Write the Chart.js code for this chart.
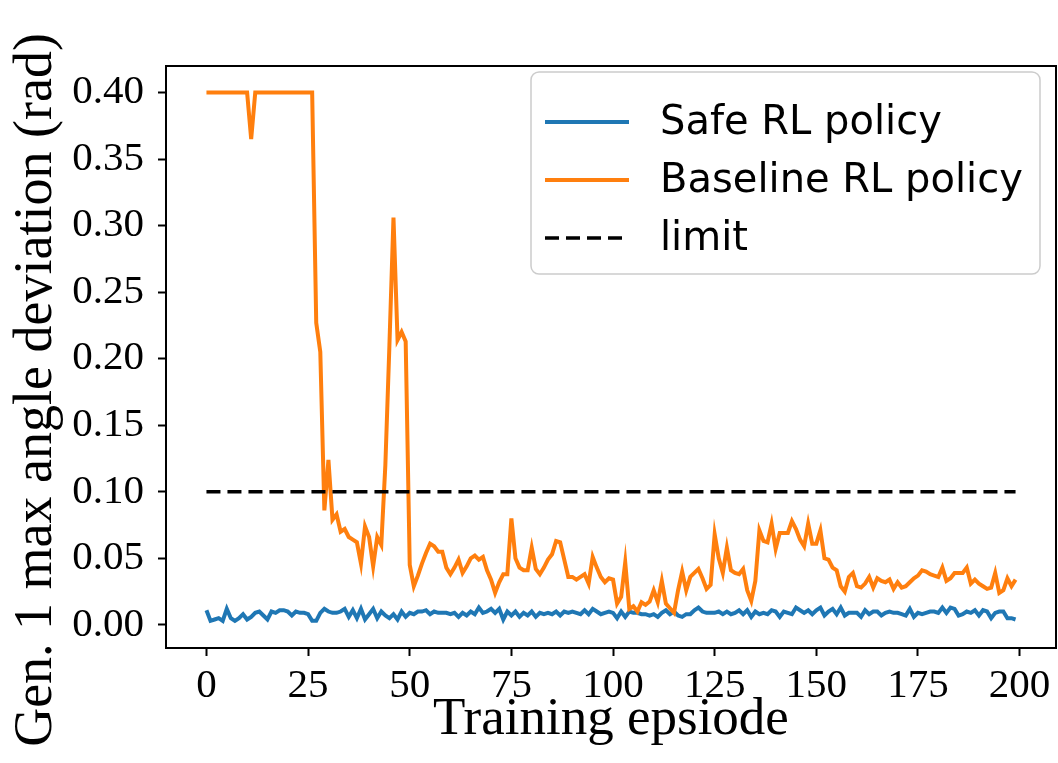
<!DOCTYPE html>
<html>
<head>
<meta charset="utf-8">
<script src="https://cdn.jsdelivr.net/npm/chart.js@4.4.1/dist/chart.umd.min.js"></script>
<style>
  body { margin: 0; background: #fff; }
  #wrap { width: 1058px; height: 763px; position: relative; }
</style>
</head>
<body>
<div id="wrap"><canvas id="chart"></canvas></div>
<script>
// values
const baseline_rl = [
    0.400, 0.400, 0.400, 0.400, 0.400, 0.400, 0.400, 0.400, 0.400, 0.400,
    0.400, 0.365, 0.400, 0.400, 0.400, 0.400, 0.400, 0.400, 0.400, 0.400,
    0.400, 0.400, 0.400, 0.400, 0.400, 0.400, 0.400, 0.227, 0.205, 0.086,
    0.124, 0.079, 0.083, 0.070, 0.072, 0.066, 0.064, 0.062, 0.046, 0.074,
    0.066, 0.044, 0.066, 0.060, 0.120, 0.210, 0.306, 0.214, 0.220, 0.213,
    0.045, 0.029, 0.037, 0.046, 0.054, 0.061, 0.059, 0.055, 0.055, 0.043,
    0.038, 0.043, 0.049, 0.039, 0.044, 0.050, 0.052, 0.049, 0.051, 0.041,
    0.034, 0.024, 0.032, 0.038, 0.038, 0.080, 0.050, 0.043, 0.041, 0.041,
    0.058, 0.042, 0.038, 0.043, 0.049, 0.053, 0.063, 0.062, 0.049, 0.036,
    0.036, 0.034, 0.036, 0.038, 0.031, 0.051, 0.043, 0.036, 0.032, 0.035,
    0.034, 0.016, 0.021, 0.047, 0.012, 0.014, 0.010, 0.017, 0.015, 0.0175,
    0.026, 0.017, 0.033, 0.016, 0.0125, 0.009, 0.026, 0.040, 0.026, 0.036,
    0.039, 0.042, 0.035, 0.027, 0.030, 0.068, 0.050, 0.039, 0.058, 0.041,
    0.039, 0.038, 0.042, 0.026, 0.018, 0.033, 0.071, 0.063, 0.062, 0.076,
    0.057, 0.069, 0.069, 0.069, 0.078, 0.072, 0.064, 0.059, 0.076, 0.061,
    0.061, 0.071, 0.050, 0.049, 0.043, 0.041, 0.029, 0.025, 0.036, 0.039,
    0.029, 0.028, 0.031, 0.036, 0.028, 0.035, 0.033, 0.032, 0.034, 0.027,
    0.032, 0.028, 0.029, 0.032, 0.035, 0.037, 0.041, 0.040, 0.038, 0.037,
    0.036, 0.043, 0.033, 0.035, 0.039, 0.039, 0.039, 0.043, 0.031, 0.034,
    0.031, 0.029, 0.027, 0.028, 0.039, 0.024, 0.026, 0.035, 0.029, 0.034
];

const safe_rl = [
    0.011, 0.003, 0.004, 0.005, 0.003, 0.012, 0.005, 0.003, 0.005, 0.008,
    0.004, 0.006, 0.009, 0.010, 0.007, 0.004, 0.010, 0.009, 0.011, 0.011,
    0.010, 0.007, 0.010, 0.009, 0.009, 0.008, 0.003, 0.003, 0.009, 0.012,
    0.010, 0.009, 0.009, 0.010, 0.012, 0.006, 0.011, 0.005, 0.012, 0.004,
    0.008, 0.012, 0.005, 0.010, 0.007, 0.005, 0.008, 0.004, 0.010, 0.006,
    0.009, 0.008, 0.010, 0.010, 0.011, 0.008, 0.010, 0.009, 0.009, 0.009,
    0.008, 0.009, 0.006, 0.009, 0.007, 0.010, 0.008, 0.013, 0.009, 0.010,
    0.012, 0.009, 0.012, 0.004, 0.010, 0.007, 0.010, 0.006, 0.009, 0.007,
    0.010, 0.006, 0.009, 0.008, 0.009, 0.008, 0.010, 0.007, 0.010, 0.009,
    0.010, 0.009, 0.008, 0.011, 0.008, 0.012, 0.010, 0.008, 0.009, 0.010,
    0.009, 0.005, 0.010, 0.006, 0.010, 0.009, 0.009, 0.008, 0.008, 0.007,
    0.008, 0.006, 0.009, 0.011, 0.008, 0.010, 0.007, 0.006, 0.008, 0.008,
    0.011, 0.013, 0.010, 0.009, 0.009, 0.009, 0.010, 0.008, 0.010, 0.008,
    0.009, 0.011, 0.008, 0.011, 0.006, 0.010, 0.008, 0.009, 0.008, 0.011,
    0.010, 0.006, 0.010, 0.009, 0.008, 0.013, 0.011, 0.009, 0.011, 0.008,
    0.011, 0.013, 0.007, 0.010, 0.012, 0.008, 0.013, 0.007, 0.009, 0.009,
    0.009, 0.006, 0.011, 0.008, 0.010, 0.010, 0.007, 0.009, 0.010, 0.009,
    0.009, 0.008, 0.007, 0.012, 0.006, 0.009, 0.008, 0.009, 0.010, 0.010,
    0.009, 0.013, 0.009, 0.013, 0.012, 0.007, 0.008, 0.010, 0.009, 0.011,
    0.007, 0.011, 0.010, 0.005, 0.009, 0.010, 0.010, 0.005, 0.005, 0.004
];

const limit_value = 0.1;
const episodes = baseline_rl.map((v, i) => i);

const x_ticks = [0, 25, 50, 75, 100, 125, 150, 175, 200];
const y_ticks = [0, 0.05, 0.10, 0.15, 0.20, 0.25, 0.30, 0.35, 0.40];
const y_tick_labels = ["0.00", "0.05", "0.10", "0.15", "0.20", "0.25", "0.30", "0.35", "0.40"];

const serif = '"Liberation Serif", "Times New Roman", serif';

// box round the axes, legend and the y title, drawn like matplotlib does
const extras = {
    id: 'extras',
    afterDraw(chart) {
        const ctx = chart.ctx;
        const a = chart.chartArea;
        ctx.save();
        ctx.strokeStyle = '#000';
        ctx.lineWidth = 2;
        ctx.strokeRect(a.left, a.top, a.right - a.left, a.bottom - a.top);

        // legend
        ctx.fillStyle = 'rgba(255,255,255,0.8)';
        ctx.strokeStyle = '#cccccc';
        ctx.lineWidth = 1.5;
        ctx.beginPath();
        ctx.roundRect(531, 72, 509, 202, 8);
        ctx.fill();
        ctx.stroke();

        const rows = [122, 180, 238];
        ctx.font = '40px "DejaVu Sans"';
        ctx.textBaseline = 'middle';
        ctx.textAlign = 'left';
        chart.data.datasets.forEach((ds, k) => {
            ctx.strokeStyle = ds.borderColor;
            ctx.lineWidth = ds.borderWidth;
            ctx.setLineDash(ds.borderDash || []);
            ctx.beginPath();
            ctx.moveTo(545, rows[k]);
            ctx.lineTo(629, rows[k]);
            ctx.stroke();
            ctx.setLineDash([]);
            ctx.fillStyle = '#000';
            ctx.fillText(ds.label, 660, rows[k] + 2);
        });

        // y title
        ctx.translate(37, 390);
        ctx.rotate(-Math.PI / 2);
        ctx.textAlign = 'center';
        ctx.textBaseline = 'middle';
        ctx.font = '54px ' + serif;
        ctx.fillStyle = '#000';
        ctx.fillText('Gen. 1 max angle deviation (rad)', 0, 0);
        ctx.restore();
    }
};

const ctx = document.getElementById('chart').getContext('2d');
new Chart(ctx, {
    type: 'line',
    data: {
        labels: episodes,
        datasets: [
            {
                label: 'Safe RL policy',
                data: safe_rl,
                borderColor: '#1f77b4',
                borderWidth: 4,
                pointRadius: 0,
                tension: 0,
                order: 3
            },
            {
                label: 'Baseline RL policy',
                data: baseline_rl,
                borderColor: '#ff7f0e',
                borderWidth: 4,
                pointRadius: 0,
                tension: 0,
                order: 2
            },
            {
                label: 'limit',
                data: episodes.map(() => limit_value),
                borderColor: '#000000',
                borderWidth: 3.5,
                borderDash: [14, 7],
                pointRadius: 0,
                tension: 0,
                order: 1
            }
        ]
    },
    options: {
        responsive: true,
        maintainAspectRatio: false,
        devicePixelRatio: 1,
        animation: false,
        layout: { padding: { top: 66, right: 2, left: 0, bottom: 0 } },
        plugins: {
            legend: { display: false },
            tooltip: { enabled: false }
        },
        scales: {
            x: {
                type: 'linear',
                min: -9.95,
                max: 208.95,
                afterBuildTicks: scale => { scale.ticks = x_ticks.map(v => ({ value: v })); },
                afterFit: scale => { scale.height = 115; },
                ticks: {
                    color: '#000',
                    font: { family: serif, size: 41 },
                    padding: 6,
                    maxRotation: 0,
                    autoSkip: false,
                    callback: v => String(v)
                },
                grid: {
                    drawOnChartArea: false,
                    tickLength: 8,
                    tickWidth: 2,
                    tickColor: '#000'
                },
                border: { display: false },
                title: {
                    display: true,
                    text: 'Training epsiode',
                    color: '#000',
                    font: { family: serif, size: 53 },
                    padding: { top: 0, bottom: 11 }
                }
            },
            y: {
                min: -0.0174,
                max: 0.4199,
                afterBuildTicks: scale => { scale.ticks = y_ticks.map(v => ({ value: v })); },
                afterFit: scale => { scale.width = 166; },
                ticks: {
                    color: '#000',
                    font: { family: serif, size: 41 },
                    padding: 14,
                    autoSkip: false,
                    callback: (v, i) => y_tick_labels[i]
                },
                grid: {
                    drawOnChartArea: false,
                    tickLength: 8,
                    tickWidth: 2,
                    tickColor: '#000'
                },
                border: { display: false }
            }
        }
    },
    plugins: [extras]
});
</script>
</body>
</html>
